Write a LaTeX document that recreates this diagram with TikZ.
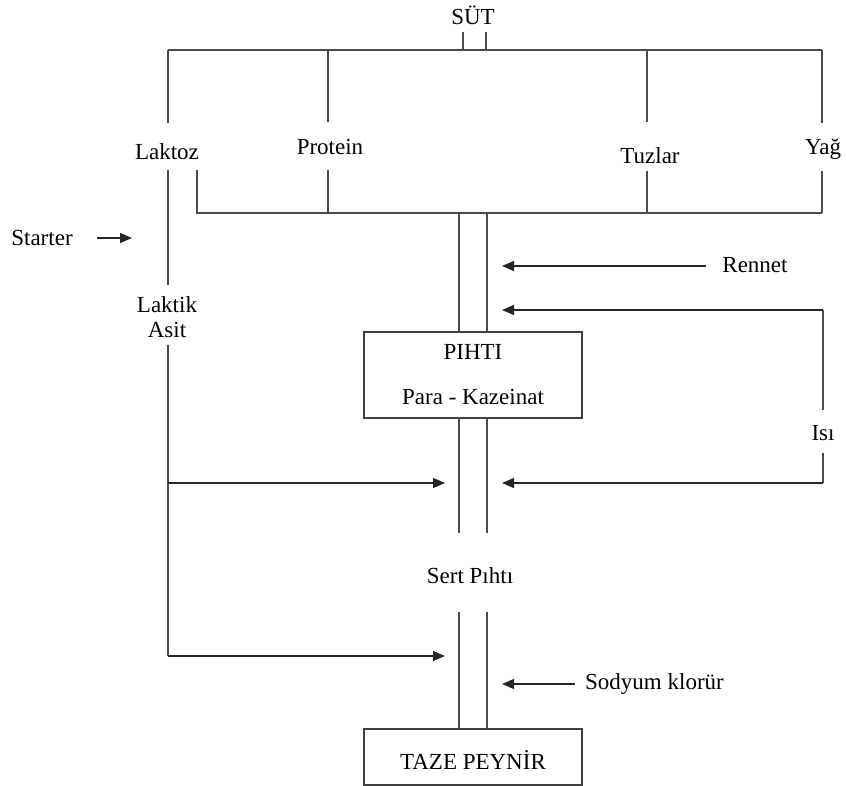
\documentclass[tikz,border=0pt]{standalone}
\usepackage{fontspec}
\setmainfont{Liberation Serif}
\usetikzlibrary{arrows.meta}
\begin{document}
\begin{tikzpicture}[x=1pt,y=-1pt,
  ln/.style={line width=1.3pt,draw=black!70},
  arr/.style={line width=1.3pt,draw=black!85,-{Triangle[length=12pt,width=10pt]}},
  lbl/.style={inner sep=0pt,font=\fontsize{23}{24}\selectfont,text=black},
  boxn/.style={draw=black!75,line width=1.3pt,inner sep=0pt}]
\useasboundingbox (0,0) rectangle (846,786);
% labels
\node[lbl] (sut) at (473,15) {SÜT};
\node[lbl] (laktoz) at (167,152) {Laktoz};
\node[lbl] (protein) at (330,147) {Protein};
\node[lbl] (tuzlar) at (650,156) {Tuzlar};
\node[lbl] (yag) at (823,149) {Yağ};
\node[lbl,align=center] (laktik) at (167,317) {Laktik\\[1pt]Asit};
\node[lbl] (starter) at (42,238) {Starter};
\node[lbl] (rennet) at (755,265) {Rennet};
\node[lbl] (isi) at (823,433) {Isı};
\node[lbl] (sert) at (470,576) {Sert Pıhtı};
\node[lbl,anchor=west] (sodyum) at (585,684) {Sodyum klorür};
% boxes
\node[boxn,minimum width=218pt,minimum height=86pt] (pihtibox) at (473,375) {};
\node[lbl] (pihti) at (473,352) {PIHTI};
\node[lbl] (para) at (473,397) {Para - Kazeinat};
\node[boxn,minimum width=218pt,minimum height=56pt] (taze) at (473,757) {};
\node[lbl] (tazet) at (473,760) {TAZE PEYNİR};
% coordinates
\coordinate (s1) at (463,32); \coordinate (s2) at (486,32);
\coordinate (t1) at (168,50); \coordinate (t2) at (328,50);
\coordinate (t3) at (647,50); \coordinate (t4) at (822,50);
\coordinate (b0) at (197,213); \coordinate (b1) at (328,213);
\coordinate (b2) at (647,213); \coordinate (b3) at (822,213);
\coordinate (c1) at (459,213); \coordinate (c2) at (487,213);
\coordinate (lk) at (168,656);
\coordinate (lm) at (168,483);
% SÜT stub
\draw[ln] (s1) -- (s1 |- t1);
\draw[ln] (s2) -- (s2 |- t1);
\draw[ln] (t1) -- (t4);
\draw[ln] (t1) -- (168,123);
\draw[ln] (t2) -- (328,122);
\draw[ln] (t3) -- (647,122);
\draw[ln] (t4) -- (822,123);
% lower collectors
\draw[ln] (168,170) -- (168,285);
\draw[ln] (197,170) -- (b0) -- (b3);
\draw[ln] (328,170) -- (b1);
\draw[ln] (647,171) -- (b2);
\draw[ln] (822,171) -- (b3);
% central pipe
\draw[ln] (c1) -- (c1 |- pihtibox.north);
\draw[ln] (c2) -- (c2 |- pihtibox.north);
\draw[ln] (c1 |- pihtibox.south) -- (459,533);
\draw[ln] (c2 |- pihtibox.south) -- (487,533);
\draw[ln] (459,612) -- (c1 |- taze.north);
\draw[ln] (487,612) -- (c2 |- taze.north);
% laktik asit
\draw[ln] (168,345) -- (lk);
\draw[arr] (lk) -- (445,656);
\draw[arr] (lm) -- (445,483);
% starter
\draw[arr] (97,238) -- (132,238);
% rennet
\draw[arr] (706,266) -- (502,266);
% isi
\draw[ln] (823,410) -- (823,310);
\draw[arr] (823,310) -- (502,310);
\draw[ln] (823,453) -- (823,483);
\draw[arr] (823,483) -- (502,483);
% sodyum
\draw[arr] (575,684) -- (502,684);
\end{tikzpicture}
\end{document}
